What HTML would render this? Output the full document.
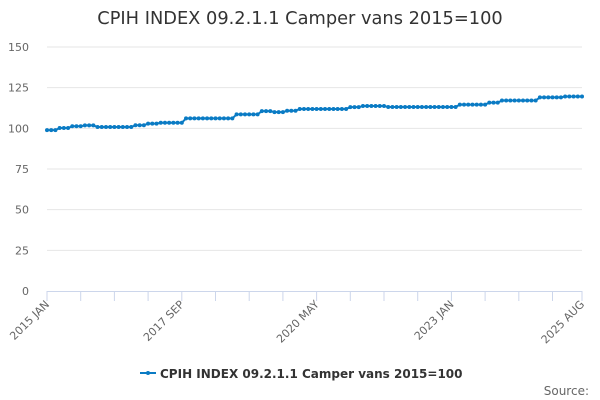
<!DOCTYPE html>
<html><head><meta charset="utf-8"><style>
html,body{margin:0;padding:0;background:#fff;}
svg{display:block;font-family:"DejaVu Sans","Liberation Sans",sans-serif;}
</style></head><body>
<svg id="chart" width="600" height="400">
<text x="300" y="24" text-anchor="middle" font-size="17.8" fill="#333">CPIH INDEX 09.2.1.1 Camper vans 2015=100</text>
<g id="grid"></g><g id="xaxis"></g><g id="series"></g>
<g>
<line x1="140" y1="373" x2="156" y2="373" stroke="#0a7bc4" stroke-width="2"/>
<circle cx="148" cy="373" r="2" fill="#0a7bc4"/>
<text x="160" y="378" font-size="12" font-weight="bold" fill="#333">CPIH INDEX 09.2.1.1 Camper vans 2015=100</text>
</g>
<text x="589" y="395" text-anchor="end" font-size="12" fill="#666">Source:</text>
</svg>
<script>
const yTicks=[0,25,50,75,100,125,150];
const xLabels=["2015 JAN","2017 SEP","2020 MAY","2023 JAN","2025 AUG"];
const xLabelIdx=[0,32,64,96,127];
const segLevels=[98.9,100.2,101.3,101.8,100.8,101.9,102.9,103.4,106.1,108.6,110.6,110.0,110.8,111.9,113.0,113.7,113.1,114.6,115.8,117.1,119.0,119.6];
const segLengths=[3,3,3,3,9,3,3,6,12,6,3,3,3,12,3,6,17,7,3,9,6,5];
const values=[];
segLevels.forEach((v,k)=>{for(let j=0;j<segLengths[k];j++)values.push(v);});
const N=values.length;
const x0=47,x1=582,yb=291,yt=47;
const xs=i=>x0+(x1-x0)*i/(N-1);
const ys=v=>yb-(yb-yt)*v/150;
const NS="http://www.w3.org/2000/svg";
function mk(t,a,p){const e=document.createElementNS(NS,t);for(const k in a)e.setAttribute(k,a[k]);p.appendChild(e);return e;}
const grid=document.getElementById('grid');
yTicks.forEach(t=>{
  if(t>0){const l=mk('line',{x1:x0,x2:x1,y1:ys(t),y2:ys(t),stroke:'#e6e6e6','stroke-width':1},grid);
  
  }
  const tx=mk('text',{x:29,y:ys(t)+4,'text-anchor':'end','font-size':11,fill:'#666'},grid);
  tx.textContent=t;
  
  
});
const xa=document.getElementById('xaxis');
const ax=mk('line',{x1:x0,x2:x1,y1:yb+0.5,y2:yb+0.5,stroke:'#ccd6eb'},xa);


const tickIdx=[];for(let i=0;i<N;i+=8)tickIdx.push(i);tickIdx.push(N-1);
tickIdx.forEach(i=>{const t=mk('line',{x1:xs(i),x2:xs(i),y1:yb,y2:yb+10,stroke:'#ccd6eb'},xa);

});
xLabels.forEach((s,k)=>{const x=xs(xLabelIdx[k])+3,y=yb+14;
const t=mk('text',{x:x,y:y,'text-anchor':'end','font-size':11,fill:'#666',transform:`rotate(-45 ${x} ${y})`},xa);
t.textContent=s;

});
const sg=document.getElementById('series');
const pl=mk('polyline',{points:values.map((v,i)=>xs(i)+','+ys(v)).join(' '),fill:'none',stroke:'#0a7bc4','stroke-width':2},sg);


values.forEach((v,i)=>{const c=mk('circle',{cx:xs(i),cy:ys(v),r:2,fill:'#0a7bc4'},sg);

});
</script>
</body></html>
